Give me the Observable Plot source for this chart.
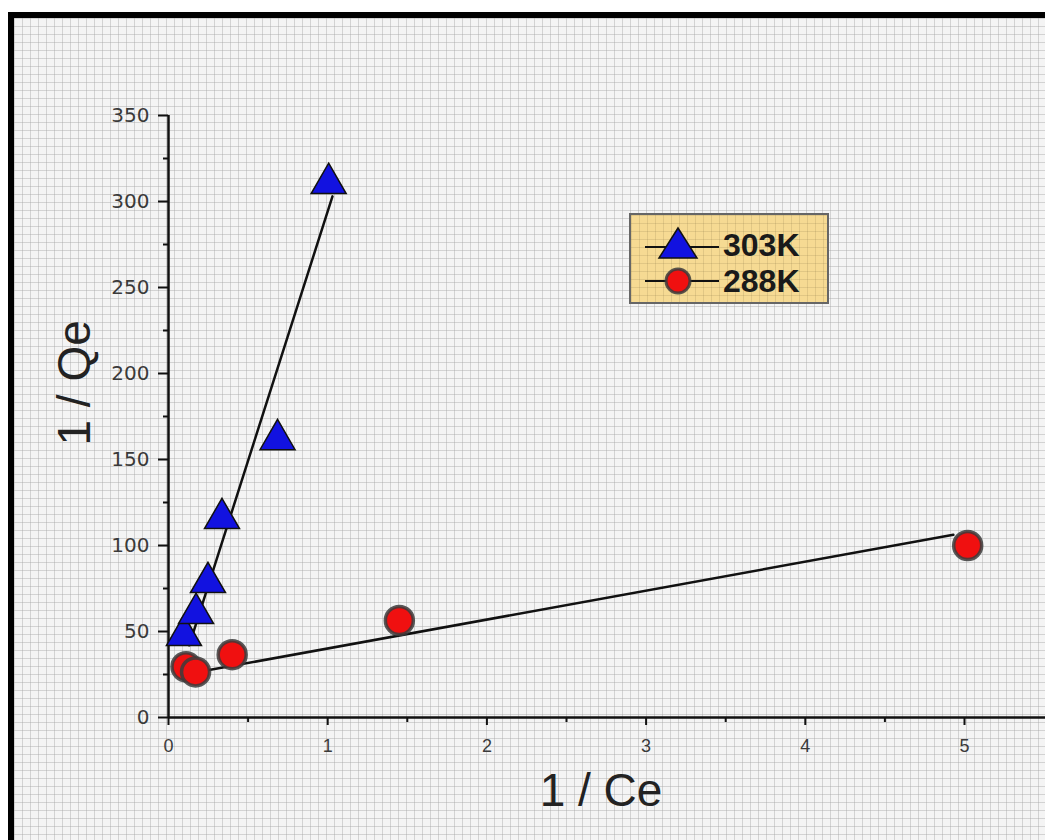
<!DOCTYPE html>
<html>
<head>
<meta charset="utf-8">
<script src="https://cdn.jsdelivr.net/npm/d3@7"></script>
<script src="https://cdn.jsdelivr.net/npm/@observablehq/plot@0.6"></script>
<style>
  html, body { margin: 0; padding: 0; background: #fff; overflow: hidden; }
  #wrap { position: relative; width: 1045px; height: 840px; overflow: hidden; }
  .grid {
    background-color: #f4f4f4;
    background-image:
      linear-gradient(to right, rgba(170,170,170,0.45) 1.5px, transparent 1.5px),
      linear-gradient(to bottom, rgba(170,170,170,0.45) 1.5px, transparent 1.5px);
    background-size: 8px 8px;
  }
  #frame { position: absolute; left: 8px; top: 12px; width: 1100px; height: 900px;
           border-left: 6px solid #000; border-top: 6px solid #000; }
  #chart { position: absolute; left: 0; top: 0; }
  #legend { position: absolute; left: 629px; top: 213px; width: 196px; height: 87px;
            border: 2px solid #666; background-color: #f6da93;
            background-image:
              linear-gradient(to right, rgba(150,130,80,0.22) 1.5px, transparent 1.5px),
              linear-gradient(to bottom, rgba(150,130,80,0.22) 1.5px, transparent 1.5px);
            background-size: 8px 8px;
            font-family: "Liberation Sans", Arial, sans-serif; font-weight: bold; font-size: 32px; color: #1a1a1a; }
  .row { position: absolute; left: 0; height: 40px; display: flex; align-items: center; }
  .row svg { display: block; }
  .row span { margin-left: 4px; }
</style>
</head>
<body>
<div id="wrap">
  <div id="frame" class="grid"></div>
  <div id="chart"></div>
  <div id="legend"></div>
</div>
<script>
// ---- data ----
const seriesNames = ["303K", "288K"];
const x303 = [0.097, 0.173, 0.248, 0.336, 0.685, 1.006];
const y303 = [47.7, 60.5, 78.5, 115.7, 161.6, 310.5];
const x288 = [0.11, 0.17, 0.40, 1.45, 5.02];
const y288 = [29.5, 26.5, 36.5, 56.4, 100];
// fitted lines (end points)
const fit303x = [0.13, 1.03];
const fit303y = [42, 303];
const fit288x = [0.107, 4.93];
const fit288y = [25.1, 106.2];
// ticks
const xTicks = [0, 1, 2, 3, 4, 5];
const xMinor = [0.5, 1.5, 2.5, 3.5, 4.5];
const yTicks = [0, 50, 100, 150, 200, 250, 300, 350];
const yMinor = [25, 75, 125, 175, 225, 275, 325];
const xTitle = "1 / Ce";
const yTitle = "1 / Qe";

const pts303 = x303.map((x, i) => ({x, y: y303[i]}));
const pts288 = x288.map((x, i) => ({x, y: y288[i]}));
const line303 = fit303x.map((x, i) => ({x, y: fit303y[i]}));
const line288 = fit288x.map((x, i) => ({x, y: fit288y[i]}));

const W = 1045, H = 840;
const mL = 168, mT = 115, mB = 123, mR = 0;
const pxPerUnit = 159.2;
const xMax = (W - mL - mR) / pxPerUnit;

const chart = Plot.plot({
  width: W, height: H,
  marginLeft: mL, marginTop: mT, marginBottom: mB, marginRight: mR,
  x: {domain: [0, xMax]},
  y: {domain: [0, 350]},
  style: {fontFamily: "'Liberation Sans', Arial, sans-serif", fontSize: "16px", color: "#333", background: "transparent", overflow: "visible"},
  marks: [
    Plot.axisX({ticks: xTicks, tickFormat: d => String(d), tickSize: 8, tickPadding: 14, fontSize: 18, label: null, strokeWidth: 2, stroke: "#111", fill: "#3a3a3a"}),
    Plot.axisX({ticks: xMinor, tickSize: 5, text: null, label: null, strokeWidth: 2, stroke: "#111"}),
    Plot.axisY({ticks: yTicks, tickFormat: d => String(d), tickSize: 10, tickPadding: 9, fontSize: 20, fontFamily: "'DejaVu Sans', sans-serif", label: null, strokeWidth: 2, stroke: "#111", fill: "#3a3a3a"}),
    Plot.axisY({ticks: yMinor, tickSize: 5, text: null, label: null, strokeWidth: 2, stroke: "#111"}),
    Plot.ruleY([0], {stroke: "#111", strokeWidth: 2.5}),
    Plot.ruleX([0], {stroke: "#111", strokeWidth: 2.5}),
    Plot.text([xTitle], {frameAnchor: "bottom", dx: -6, dy: 88, fontSize: 46, fill: "#222", text: d => d}),
    Plot.text([yTitle], {frameAnchor: "left", dx: -93, dy: 29, fontSize: 46, fill: "#222", rotate: -90, text: d => d}),
    Plot.line(line303, {x: "x", y: "y", stroke: "#111", strokeWidth: 2.5}),
    Plot.line(line288, {x: "x", y: "y", stroke: "#111", strokeWidth: 2.5}),
    Plot.dot(pts288, {x: "x", y: "y", r: 14, fill: "#f01010", stroke: "#3c3c3c", strokeWidth: 3.5, strokeOpacity: 0.85}),
    Plot.dot(pts303, {x: "x", y: "y", symbol: "triangle", r: 13, fill: "#1212e0", stroke: "#111", strokeWidth: 1.5})
  ]
});
document.getElementById("chart").appendChild(chart);

// ---- legend (inside plot area) ----
const legend = document.getElementById("legend");
const sym = {
  "303K": '<polygon points="33,3 14,33 52,33" fill="#1212e0" stroke="#111" stroke-width="1.5"/>',
  "288K": '<circle cx="33" cy="20" r="12" fill="#f01010" stroke="#3c3c3c" stroke-width="3" stroke-opacity="0.85"/>'
};
seriesNames.forEach((name, i) => {
  const row = document.createElement("div");
  row.className = "row";
  row.style.top = (i === 0 ? 10 : 46) + "px";
  row.style.left = "14px";
  const yLine = i === 0 ? 22 : 20;
  row.innerHTML = `<svg width="74" height="40"><line x1="0" y1="${yLine}" x2="74" y2="${yLine}" stroke="#111" stroke-width="2"/>${sym[name]}</svg><span>${name}</span>`;
  legend.appendChild(row);
});
</script>
</body>
</html>
